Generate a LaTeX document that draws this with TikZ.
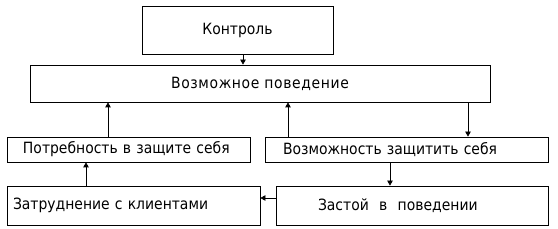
\documentclass[tikz,border=0pt]{standalone}
\usepackage{fontspec}
\setmainfont{DejaVu Sans Condensed}
\usepackage{tikz}
\usetikzlibrary{arrows.meta}

\tikzset{
	blockbox/.style={draw,line width=0.8pt,inner sep=0pt,minimum height=#1,font=\fontsize{15.5}{17}\selectfont},
	leftbox/.style 2 args={blockbox=#1,align=left,inner xsep=#2},
	arr/.style={line width=0.8pt,-{Triangle[width=5.5pt,length=5pt]}}
}

\begin{document}
\begin{tikzpicture}[x=1pt,y=-1pt]
		
		\useasboundingbox (0,0) rectangle (558,229);
		
		% Blocks
		\node[blockbox=48,minimum width=191] (ctrl) at (237.5,30){Контроль};
		\node[blockbox=37,minimum width=460] (poss) at (260,83.5){\addfontfeatures{LetterSpace=4}Возможное поведение};
		\node[leftbox={25}{16},text width=211] (need) at (128.5,149.5){Потребность в защите себя};
		\node[leftbox={25}{18},text width=247] (able) at (406.5,149.5){Возможность защитить себя};
		\node[leftbox={39}{6},text width=241] (diff) at (133.5,205.5){Затруднение с клиентами};
		\node[leftbox={39}{42},text width=188] (stag) at (412,205.5){Застой~~в~~поведении};
		
		% Arrow positions
		\coordinate (c1) at (243,0);
		\coordinate (c2) at (108,0);
		\coordinate (c3) at (288,0);
		\coordinate (c4) at (468,0);
		\coordinate (c5) at (86,0);
		\coordinate (c6) at (390,0);
		\coordinate (r1) at (0,198);
		
		% Connectors
		\draw[arr] (ctrl.south -| c1)--(poss.north -| c1);
		\draw[arr] (need.north -| c2)--(poss.south -| c2);
		\draw[arr] (able.north -| c3)--(poss.south -| c3);
		\draw[arr] (poss.south -| c4)--(able.north -| c4);
		\draw[arr] (diff.north -| c5)--(need.south -| c5);
		\draw[arr] (able.south -| c6)--(stag.north -| c6);
		\draw[arr] (stag.west |- r1)--(diff.east |- r1);
		
	\end{tikzpicture}
\end{document}
